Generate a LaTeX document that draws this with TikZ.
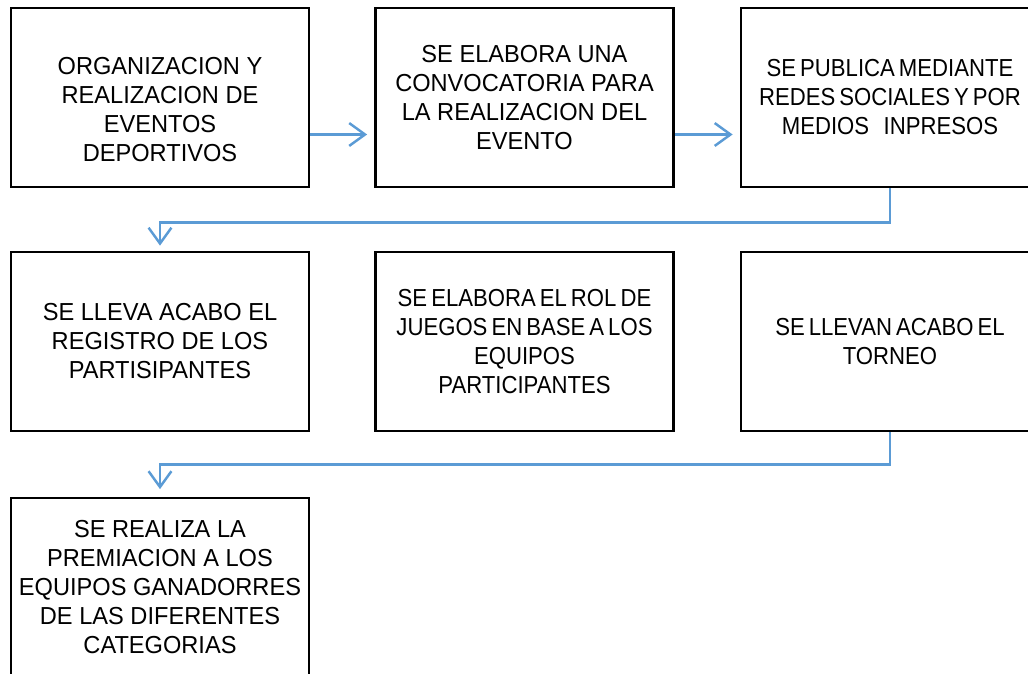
\documentclass[tikz,border=0pt]{standalone}
\usepackage{fontspec}
\setmainfont[FakeStretch=0.96]{Liberation Sans}
\usetikzlibrary{arrows.meta}
\definecolor{flecha}{RGB}{91,155,213}

\begin{document}
\begin{tikzpicture}[x=0.02cm, y=-0.02cm,
  caja/.style={draw, line width=1.6pt, minimum width=5.96cm, minimum height=3.58cm, inner sep=0pt, align=center, font=\fontsize{14}{16.5}\selectfont},
  junto/.style={execute at begin node={\addfontfeature{FakeStretch=0.9}\spaceskip=2.3pt plus 0.3pt}},
  flujo/.style={draw=flecha, line width=1.4pt, -{Straight Barb[length=9pt,width=13pt]}}]
\useasboundingbox (0,0) rectangle (1028,673);

\node[caja] (p1) at (160,97.5) {\rule{0pt}{24pt}ORGANIZACION Y\\REALIZACION DE\\EVENTOS\\DEPORTIVOS};
\node[caja] (p2) at (524.5,97.5) {SE ELABORA UNA\\CONVOCATORIA PARA\\LA REALIZACION DEL\\EVENTO};
\node[caja, junto] (p3) at (890,97.5) {SE PUBLICA MEDIANTE\\REDES SOCIALES Y POR\\MEDIOS\hspace{6pt} INPRESOS};

\node[caja] (p4) at (160,341.5) {SE LLEVA ACABO EL\\REGISTRO DE LOS\\PARTISIPANTES};
\node[caja, junto] (p5) at (524.5,341.5) {SE ELABORA EL ROL DE\\JUEGOS EN BASE A LOS\\EQUIPOS\\PARTICIPANTES};
\node[caja, junto] (p6) at (890,341.5) {SE LLEVAN ACABO EL\\TORNEO};

\node[caja] (p7) at (160,587.5) {SE REALIZA LA\\PREMIACION A LOS\\EQUIPOS GANADORRES\\DE LAS DIFERENTES\\CATEGORIAS};

\draw[flujo, shorten >=0.14cm] ([yshift=-0.74cm]p1.east) -- ([yshift=-0.74cm]p2.west);
\draw[flujo, shorten >=0.14cm] ([yshift=-0.74cm]p2.east) -- ([yshift=-0.74cm]p3.west);
\draw[flujo, shorten >=0.1cm] (p3.south) -- ++(0,34) -| (p4.north);
\draw[flujo, shorten >=0.15cm] (p6.south) -- ++(0,32) -| (p7.north);
\end{tikzpicture}
\end{document}
